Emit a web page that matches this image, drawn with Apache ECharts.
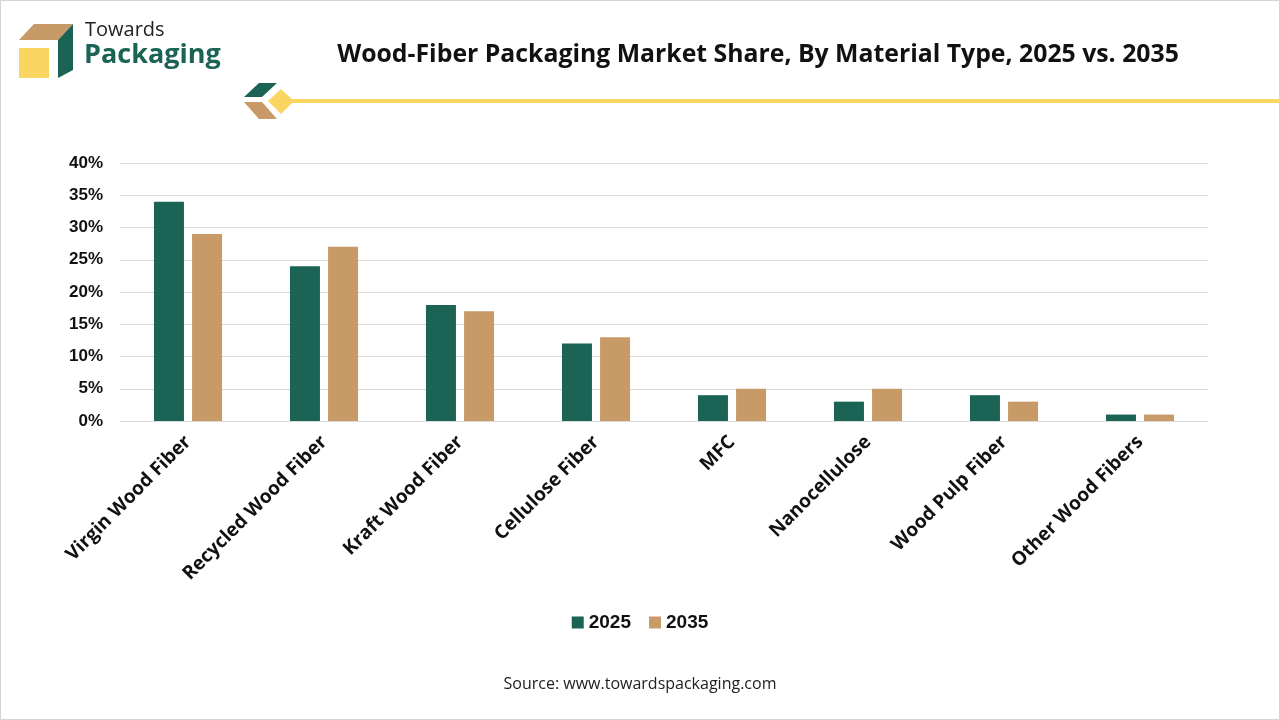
<!DOCTYPE html>
<html style="height: 100%">
<head>
<meta charset="utf-8">
<script src="https://cdn.jsdelivr.net/npm/echarts@6/dist/echarts.min.js"></script>
</head>
<body style="height: 100%; margin: 0; background: #fff">
<div id="container" style="width: 1280px; height: 720px"></div>
<script type="text/javascript">
var categories = ['Virgin Wood Fiber', 'Recycled Wood Fiber', 'Kraft Wood Fiber', 'Cellulose Fiber',
  'MFC', 'Nanocellulose', 'Wood Pulp Fiber', 'Other Wood Fibers'];
var share2025 = [34, 24, 18, 12, 4, 3, 4, 1];
var share2035 = [29, 27, 17, 13, 5, 5, 3, 1];
var yTicks = [0, 5, 10, 15, 20, 25, 30, 35, 40];

var GREEN = '#1a6355';
var TAN = '#c89a67';
var YELLOW = '#fad562';

var myChart = echarts.init(document.getElementById('container'));

var option = {
  backgroundColor: '#fff',
  animation: false,
  title: {
    text: 'Wood-Fiber Packaging Market Share, By Material Type, 2025 vs. 2035',
    left: 753,
    textAlign: 'center',
    top: 37,
    textStyle: { fontFamily: 'Open Sans', fontWeight: 'bold', fontSize: 24.8, color: '#111' }
  },
  legend: {
    bottom: 83,
    left: 'center',
    itemWidth: 12,
    itemHeight: 12,
    itemGap: 18,
    icon: 'rect',
    textStyle: { fontFamily: 'Liberation Sans', fontWeight: 'bold', fontSize: 19, color: '#111' },
    data: ['2025', '2035']
  },
  grid: { left: 120, right: 72, top: 163, bottom: 299, containLabel: false },
  xAxis: {
    type: 'category',
    data: categories,
    axisTick: { show: false },
    axisLine: { lineStyle: { color: '#d9d9d9' } },
    axisLabel: {
      rotate: 45,
      interval: 0,
      margin: 18,
      fontFamily: 'Open Sans',
      fontWeight: 'bold',
      fontSize: 19,
      color: '#111'
    }
  },
  yAxis: {
    type: 'value',
    min: yTicks[0],
    max: yTicks[yTicks.length - 1],
    interval: 5,
    axisLine: { show: false },
    axisTick: { show: false },
    splitLine: { lineStyle: { color: '#d9d9d9' } },
    axisLabel: {
      margin: 17,
      formatter: '{value}%',
      fontFamily: 'Liberation Sans',
      fontWeight: 'bold',
      fontSize: 17,
      color: '#111'
    }
  },
  series: [
    { name: '2025', type: 'bar', data: share2025, barWidth: 30, barGap: '27%', itemStyle: { color: GREEN } },
    { name: '2035', type: 'bar', data: share2035, barWidth: 30, itemStyle: { color: TAN } }
  ],
  graphic: [
    { type: 'rect', shape: { x: 0.5, y: 0.5, width: 1279, height: 719 }, style: { fill: 'none', stroke: '#d4d4d4', lineWidth: 1 } },
    // logo
    { type: 'polygon', shape: { points: [[19, 40], [34, 24], [73, 24], [58, 40]] }, style: { fill: TAN } },
    { type: 'polygon', shape: { points: [[58, 40], [73, 24], [73, 70], [58, 78]] }, style: { fill: GREEN } },
    { type: 'rect', shape: { x: 19, y: 48, width: 30, height: 30 }, style: { fill: YELLOW } },
    { type: 'text', left: 85, top: 20, style: { text: 'Towards', font: '20px "Open Sans"', fill: '#222' } },
    { type: 'text', left: 84, top: 42, style: { text: 'Packaging', font: 'bold 27px "Open Sans"', fill: GREEN } },
    // title decoration
    { type: 'rect', shape: { x: 285, y: 99, width: 995, height: 4 }, style: { fill: YELLOW } },
    { type: 'polygon', shape: { points: [[244, 97], [259, 83], [277, 83], [262, 97]] }, style: { fill: GREEN } },
    { type: 'polygon', shape: { points: [[244, 102], [262, 102], [277, 119], [259, 119]] }, style: { fill: TAN } },
    { type: 'polygon', shape: { points: [[281, 89], [294, 101], [281, 114], [268, 101]] }, style: { fill: YELLOW } },
    // source
    { type: 'text', left: 'center', top: 676, style: { text: 'Source: www.towardspackaging.com', font: '16px "Open Sans"', fill: '#222' } }
  ]
};

myChart.setOption(option);
</script>
</body>
</html>
